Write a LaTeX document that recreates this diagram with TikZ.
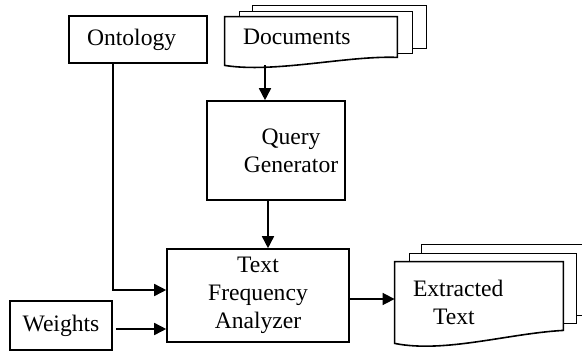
\documentclass[tikz,border=0pt]{standalone}
\usepackage{fontspec}
\setmainfont{Liberation Serif}
\usetikzlibrary{arrows.meta, calc, backgrounds}

\begin{document}
\begin{tikzpicture}[
    x=0.5pt, y=-0.5pt,
    font=\rmfamily\fontsize{11.8}{14}\selectfont,
    box/.style={rectangle, draw, line width=0.8pt, align=center, inner sep=0pt},
    doctext/.style={rectangle, inner xsep=9pt, inner ysep=0pt, align=left},
    sheet/.style={draw, fill=white, line width=0.8pt},
    arrow/.style={-{Triangle[length=6pt, width=6pt]}, line width=0.8pt}
]

\useasboundingbox (0,0) rectangle (582,352);

% Inputs
\node[box, minimum width=69pt, minimum height=23.5pt, inner xsep=9pt, text width=51pt, align=left] (ont) at (138,39.5) {Ontology};
\node[box, minimum width=51pt, minimum height=24.5pt] (wts) at (61,325.5) {Weights};

% Documents
\node[doctext, minimum width=86pt, minimum height=24pt, text width=68pt, text depth=4pt] (docs) at (311,41) {Documents};
\begin{scope}[on background layer]
  \draw[sheet] ($(docs.north west)+(28,-11)$) rectangle ($(docs.south east)+(29,-17)$);
  \draw[sheet] ($(docs.north west)+(15,-5)$) rectangle ($(docs.south east)+(15,-12)$);
  \draw[sheet] (docs.north west) -- (docs.north east) -- ($(docs.south east)+(0,-8)$)
    .. controls ($(docs.south east)+(-50,-10)$) and ($(docs.south west)+(50,8)$) .. (docs.south west) -- cycle;
\end{scope}

% Processing
\node[box, minimum width=69pt, minimum height=49.5pt] (qg) at (276,150.5) {\hspace*{15pt}Query\\\hspace*{15pt}Generator};
\node[box, minimum width=91pt, minimum height=46.5pt] (tfa) at (258,295.5) {Text\\Frequency\\Analyzer};

% Output
\node[doctext, minimum width=84pt, minimum height=40.5pt, text width=66pt] (ext) at (479,302.5) {Extracted\\\hspace*{10pt}Text};
\begin{scope}[on background layer]
  \draw[sheet] ($(ext.north west)+(27,-17)$) rectangle ($(ext.south east)+(32,-28)$);
  \draw[sheet] ($(ext.north west)+(15,-8)$) rectangle ($(ext.south east)+(13,-20)$);
  \draw[sheet] (ext.north west) -- (ext.north east) -- ($(ext.south east)+(0,-13)$)
    .. controls ($(ext.south east)+(-55,-10)$) and ($(ext.south west)+(50,10)$) .. (ext.south west) -- cycle;
\end{scope}

% Arrows
\draw[arrow] ([xshift=-5.5pt]qg.north |- docs.south) -- ([xshift=-5.5pt]qg.north);
\draw[arrow] ([xshift=-4pt]qg.south) -- ([xshift=-4pt]qg.south |- tfa.north);
\draw[arrow] ([xshift=-12.5pt]ont.south) |- ([yshift=2.75pt]tfa.west);
\draw[arrow, shorten <=1.5pt] ([yshift=-1.75pt]wts.east) -- ([yshift=-1.75pt]wts.east -| tfa.west);
\draw[arrow] ([yshift=-1.75pt]tfa.east) -- ([yshift=-1.75pt]tfa.east -| ext.west);

\end{tikzpicture}
\end{document}
